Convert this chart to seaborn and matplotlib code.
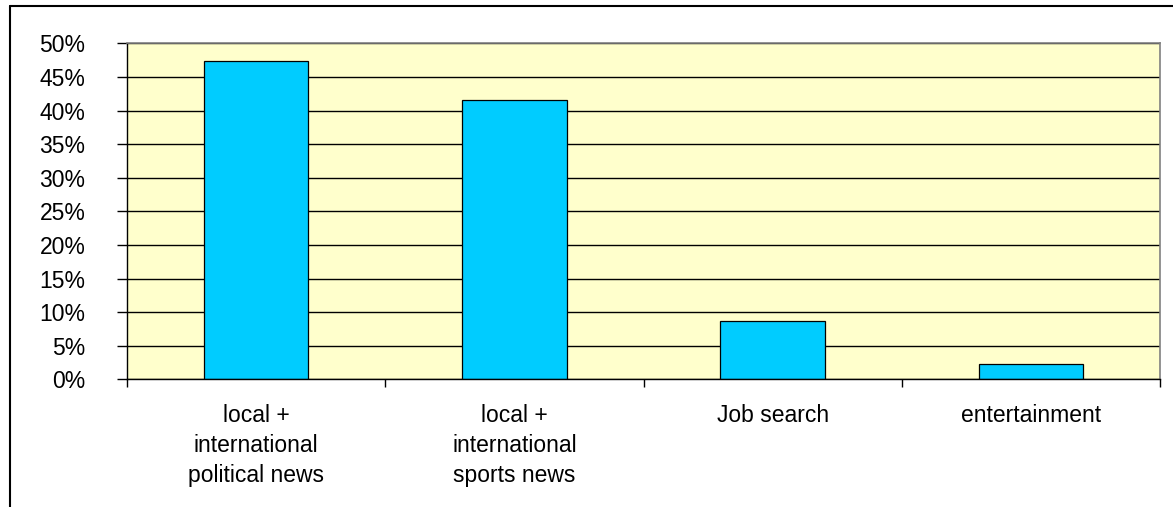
import matplotlib
matplotlib.use("Agg")
import matplotlib.pyplot as plt
import seaborn as sns
from matplotlib.ticker import MultipleLocator, FixedLocator, PercentFormatter
from matplotlib.lines import Line2D

categories = ["local +\ninternational\npolitical news",
              "local +\ninternational\nsports news",
              "Job search",
              "entertainment"]
shares = [0.473, 0.416, 0.087, 0.023]

sns.set_theme(style="white")
plt.rcParams["font.family"] = ["Liberation Sans", "DejaVu Sans"]

fig = plt.figure(figsize=(11.73, 5.07), dpi=100)
ax = fig.add_axes([0.1083, 0.2515, 0.8806, 0.6631])

sns.barplot(x=categories, y=shares, ax=ax, color="#00CCFF", saturation=1,
            width=0.405, edgecolor="black", linewidth=0.9)

ax.set_facecolor("#FFFFCC")
ax.set_xlim(-0.5, len(categories) - 0.5)
ax.set_ylim(0, 0.5)
ax.yaxis.set_major_locator(MultipleLocator(0.05))
ax.yaxis.set_major_formatter(PercentFormatter(1.0, decimals=0))
ax.set_axisbelow(True)
ax.grid(axis="y", color="black", linewidth=1.0)
ax.grid(axis="x", visible=False)

# category separators on the x axis
ax.xaxis.set_minor_locator(FixedLocator([i - 0.5 for i in range(len(categories) + 1)]))
ax.tick_params(axis="x", which="major", length=0, pad=18, labelsize=16.5,
               labelcolor="black")
ax.tick_params(axis="x", which="minor", direction="out", length=6, width=1,
               color="black", bottom=True)
ax.tick_params(axis="y", which="major", direction="out", length=7, width=1,
               color="black", left=True, pad=23, labelsize=16.5, labelcolor="black")
for lbl in ax.get_xticklabels():
    lbl.set_linespacing(1.38)
    lbl.set_verticalalignment("top")

for side in ["top", "right"]:
    ax.spines[side].set_color("#808080")
    ax.spines[side].set_linewidth(1.2)
for side in ["left", "bottom"]:
    ax.spines[side].set_color("black")
    ax.spines[side].set_linewidth(1.0)

ax.set_xlabel("")
ax.set_ylabel("")

# outer chart frame (only top and left edges fall inside the image)
fig.add_artist(Line2D([10 / 1173, 1.0], [1 - 6 / 507, 1 - 6 / 507],
                      transform=fig.transFigure, color="black", linewidth=1.5))
fig.add_artist(Line2D([10 / 1173, 10 / 1173], [0.0, 1 - 6 / 507],
                      transform=fig.transFigure, color="black", linewidth=1.5))

fig.savefig("out.png", dpi=100)
